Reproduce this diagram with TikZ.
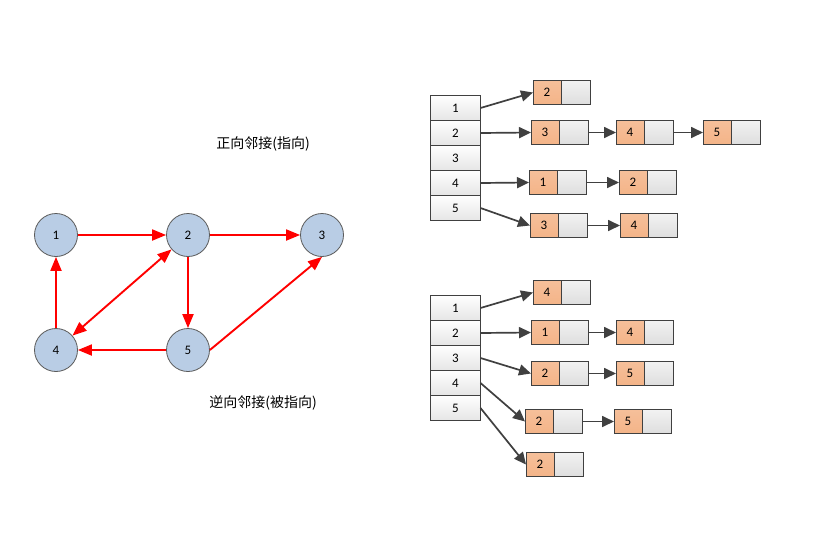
\documentclass[tikz,border=0pt]{standalone}
\usepackage{fontspec}
\setmainfont{Carlito}
\newfontfamily\cjk{Noto Sans CJK SC}
\usetikzlibrary{arrows.meta}
\definecolor{vfill}{RGB}{185,205,229}
\definecolor{vline}{RGB}{90,90,90}
\definecolor{ofill}{RGB}{244,180,136}
\definecolor{aline}{RGB}{64,64,64}
\tikzset{
  vert/.style={circle,draw=vline,line width=0.8pt,fill=vfill,minimum size=43pt,inner sep=0pt,font=\fontsize{13}{13}\selectfont},
  gedge/.style={red,line width=1.9pt,-{Triangle[length=14pt,width=11pt]}},
  gboth/.style={red,line width=1.9pt,{Triangle[length=14pt,width=11pt]}-{Triangle[length=14pt,width=11pt]}},
  tcell/.style={draw=aline,line width=0.6pt,top color=white,bottom color=black!10,minimum width=50pt,minimum height=25pt,inner sep=0pt,outer sep=0pt,font=\fontsize{13}{13}\selectfont},
  ocell/.style={draw=aline,line width=0.6pt,top color=ofill!85,bottom color=ofill,minimum width=28pt,minimum height=24pt,inner sep=0pt,outer sep=0pt,anchor=west,font=\fontsize{13}{13}\selectfont},
  gcell/.style={draw=aline,line width=0.6pt,top color=black!5,bottom color=black!13,minimum width=29pt,minimum height=24pt,inner sep=0pt,outer sep=0pt,anchor=west},
  larr/.style={aline,line width=1.7pt,-{Triangle[length=12pt,width=11pt]}},
  captext/.style={font=\cjk\fontsize{14}{14}\selectfont}
}
% list element: orange key cell (#1) followed by its empty link cell (#1g)
\newcommand{\lelem}[4]{%
  \node[ocell] (#1) at (#2,#3) {#4};
  \node[gcell] (#1g) at (#1.east) {};
}
\begin{document}
\begin{tikzpicture}[x=1pt,y=-1pt]
\path[use as bounding box,fill=white] (0,0) rectangle (833,536);

% directed graph
\node[vert] (v1) at (56,235) {1};
\node[vert] (v2) at (188,235) {2};
\node[vert] (v3) at (322,235) {3};
\node[vert] (v4) at (56,350) {4};
\node[vert] (v5) at (188,350) {5};
\draw[gedge] (v1) -- (v2);
\draw[gedge] (v2) -- (v3);
\draw[gedge] (v2) -- (v5);
\draw[gedge] (v5) -- (v4);
\draw[gedge] (v4) -- (v1);
\draw[gboth] (v4) -- (v2);
\draw[gedge] (v5.east) -- (v3.south);

\node[captext] (c1) at (263,144) {正向邻接(指向)};
\node[captext] (c2) at (263,403) {逆向邻接(被指向)};

% out-adjacency lists
\foreach \i in {1,...,5}
  \node[tcell] (t\i) at (455.5,{95.5+25*(\i-0.5)}) {\i};
\lelem{a1}{533}{92.5}{2}
\lelem{a2}{531}{132.5}{3}
\lelem{a3}{616}{132.5}{4}
\lelem{a4}{703}{132.5}{5}
\lelem{a5}{529}{182.5}{1}
\lelem{a6}{619}{182.5}{2}
\lelem{a7}{530}{225.5}{3}
\lelem{a8}{620}{225.5}{4}
\draw[larr] (t1.east) -- (a1.west);
\draw[larr] (t2.east) -- (a2.west);
\draw[larr] (a2g.east) -- (a3.west);
\draw[larr] (a3g.east) -- (a4.west);
\draw[larr] (t4.east) -- (a5.west);
\draw[larr] (a5g.east) -- (a6.west);
\draw[larr] (t5.east) -- (a7.west);
\draw[larr] (a7g.east) -- (a8.west);

% in-adjacency lists
\foreach \i in {1,...,5}
  \node[tcell] (u\i) at (455.5,{295.5+25*(\i-0.5)}) {\i};
\lelem{b1}{533}{292.5}{4}
\lelem{b2}{531}{332.5}{1}
\lelem{b3}{616}{332.5}{4}
\lelem{b4}{531}{373.5}{2}
\lelem{b5}{616}{373.5}{5}
\lelem{b6}{525}{421.5}{2}
\lelem{b7}{614}{421.5}{5}
\lelem{b8}{526}{464.5}{2}
\draw[larr] (u1.east) -- (b1.west);
\draw[larr] (u2.east) -- (b2.west);
\draw[larr] (b2g.east) -- (b3.west);
\draw[larr] (u3.east) -- (b4.west);
\draw[larr] (b4g.east) -- (b5.west);
\draw[larr] (u4.east) -- (b6.west);
\draw[larr] (b6g.east) -- (b7.west);
\draw[larr] (u5.east) -- (b8.west);
\end{tikzpicture}
\end{document}
